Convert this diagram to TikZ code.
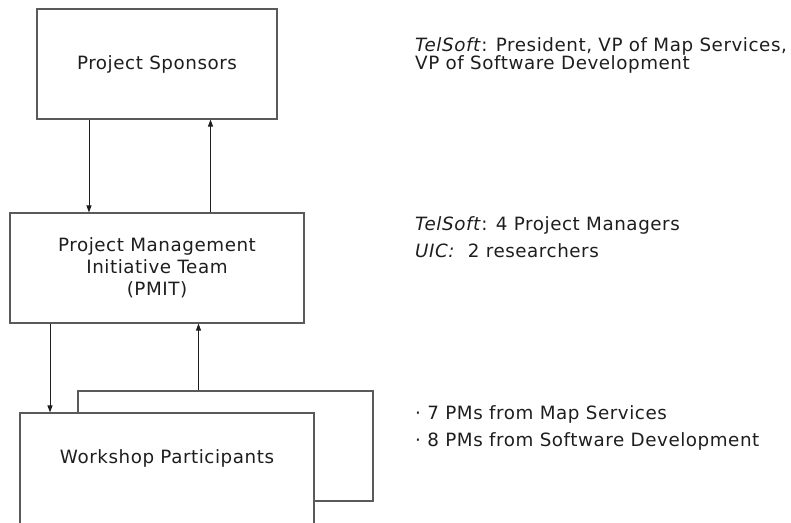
\documentclass[tikz,border=0pt]{standalone}
\usepackage{fontspec}
\setmainfont[LetterSpace=3]{DejaVu Sans}
\usetikzlibrary{arrows.meta}
\definecolor{boxgray}{HTML}{5A5A5A}
\definecolor{inkgray}{HTML}{1E1E1E}
\tikzset{
    box/.style={draw=boxgray, line width=1.1bp, fill=white, minimum width=#1, minimum height=110bp, inner sep=0pt},
    link/.style={draw=inkgray, line width=0.9bp, -{Triangle[length=7bp, width=5bp]}},
    note/.style={anchor=base west, inner sep=0pt},
}
\begin{document}
\begin{tikzpicture}[x=1bp, y=-1bp, font=\fontsize{18.3bp}{22bp}\selectfont, text=inkgray]
        \useasboundingbox (0,0) rectangle (791,523);
        \clip (0,0) rectangle (791,523);

        % Sponsors
        \node[box=240bp] (sponsors) at (157,64) {Project Sponsors};
        \node[note] (sponsorsnote) at (415,52) {\textit{TelSoft}: President, VP of Map Services,};
        \node[note] (sponsorsnote2) at (415,70) {VP of Software Development};

        % PMIT
        \node[box=294bp, align=center] (pmit) at (157,268) {Project Management\\Initiative Team\\(PMIT)};
        \node[note] (pmitnote) at (415,231) {\textit{TelSoft}: 4 Project Managers};
        \node[note] (pmitnote2) at (415,258) {\textit{UIC:}~ 2 researchers};

        % Workshop (two stacked sheets)
        \node[box=295bp] (workback) at (225.5,446) {};
        \node[box=294bp, minimum height=114bp] (workfront) at (167,470) {};
        \node (worktext) at (167,458) {Workshop Participants};
        \node[note] (worknote) at (415,419) {· 7 PMs from Map Services};
        \node[note] (worknote2) at (415,446) {· 8 PMs from Software Development};

        % Links
        \draw[link] ([xshift=-68bp]sponsors.south) -- ([xshift=-68bp]sponsors.south |- pmit.north);
        \draw[link] ([xshift=53.5bp]pmit.north) -- ([xshift=53.5bp]pmit.north |- sponsors.south);
        \draw[link] ([xshift=-107bp]pmit.south) -- ([xshift=-107bp]pmit.south |- workfront.north);
        \draw[link] ([xshift=-27bp]workback.north) -- ([xshift=-27bp]workback.north |- pmit.south);
    \end{tikzpicture}
\end{document}
